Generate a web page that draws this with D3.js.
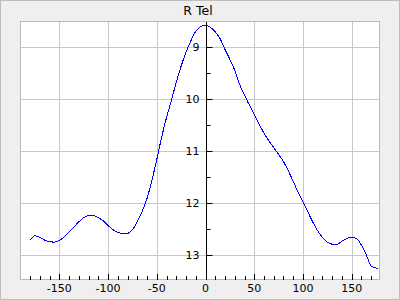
<!DOCTYPE html>
<html><head><meta charset="utf-8">
<script src="https://cdn.jsdelivr.net/npm/d3@7"></script>
<style>body{margin:0;background:#fff}svg{display:block}text{font-family:"DejaVu Sans",sans-serif}</style>
</head><body><svg id="c" width="400" height="300"></svg>
<script>
const title = "R Tel";
const phase = [-180,-175,-170,-165,-160,-155,-150,-145,-140,-135,-130,-125,-120,-115,-110,-105,-100,-95,-90,-85,-80,-75,-70,-65,-60,-55,-50,-45,-40,-35,-30,-25,-20,-15,-10,-5,0,5,10,15,20,25,30,35,40,45,50,55,60,65,70,75,80,85,90,95,100,105,110,115,120,125,130,135,140,145,150,155,160,165,170,175,177];
const mag = [12.72,12.64,12.67,12.72,12.75,12.76,12.73,12.66,12.57,12.47,12.37,12.29,12.25,12.25,12.29,12.35,12.44,12.52,12.57,12.59,12.59,12.52,12.37,12.17,11.92,11.57,11.17,10.74,10.36,10.03,9.68,9.37,9.10,8.88,8.70,8.61,8.58,8.62,8.71,8.84,9.05,9.24,9.45,9.72,9.93,10.12,10.30,10.49,10.66,10.81,10.94,11.07,11.21,11.39,11.59,11.80,11.98,12.18,12.37,12.54,12.67,12.76,12.80,12.80,12.74,12.69,12.67,12.69,12.82,13.01,13.22,13.26,13.27];
const xMajor = [-150,-100,-50,0,50,100,150];
const xMinor = d3.range(-180,180,10);
const yMajor = [9,10,11,12,13];
const yMinor = [8.5,9.5,10.5,11.5,12.5,13.5];

const svg = d3.select("#c");
const W=400,H=300, L=20,R=380,T=21,B=280;
svg.append("rect").attr("x",0.5).attr("y",0.5).attr("width",W-1).attr("height",H-1).attr("fill","#efefef").attr("stroke","#bdbdbd");
const x = d3.scaleLinear().domain([-190.3,179]).range([L,R]);
const y = d3.scaleLinear().domain([8.5,13.49]).range([T,B]);
svg.append("rect").attr("x",L+0.5).attr("y",T+0.5).attr("width",R-L-1).attr("height",B-T-1).attr("fill","#fff").attr("stroke","#b8b8b8");
const g = svg.append("g");
g.selectAll(".vg").data(xMajor.filter(d=>d!==0)).join("line").attr("x1",d=>Math.round(x(d))+0.5).attr("x2",d=>Math.round(x(d))+0.5).attr("y1",T+1).attr("y2",B-1).attr("stroke","#c8c8c8");
g.selectAll(".hg").data(yMajor).join("line").attr("y1",d=>Math.round(y(d))+0.5).attr("y2",d=>Math.round(y(d))+0.5).attr("x1",L+1).attr("x2",R-1).attr("stroke","#c8c8c8");
const x0 = Math.round(x(0))+0.5;
g.append("line").attr("x1",x0).attr("x2",x0).attr("y1",T+1).attr("y2",B).attr("stroke","#000");
g.selectAll(".yt").data(yMajor).join("line").attr("x1",x0).attr("x2",x0+6).attr("y1",d=>Math.round(y(d))+0.5).attr("y2",d=>Math.round(y(d))+0.5).attr("stroke","#000");
g.selectAll(".ym").data(yMinor.filter(d=>y(d)>T+2&&y(d)<B-2)).join("line").attr("x1",x0).attr("x2",x0+4).attr("y1",d=>Math.round(y(d))+0.5).attr("y2",d=>Math.round(y(d))+0.5).attr("stroke","#000");
g.selectAll(".yl").data(yMajor).join("text").attr("x",x0-7).attr("y",d=>y(d)+4).attr("text-anchor","end").attr("font-size",11).attr("fill","#000").text(d=>d);
g.selectAll(".xt").data(xMajor).join("line").attr("x1",d=>Math.round(x(d))+0.5).attr("x2",d=>Math.round(x(d))+0.5).attr("y1",B-6).attr("y2",B).attr("stroke","#000");
g.selectAll(".xm").data(xMinor.filter(d=>d%50!==0)).join("line").attr("x1",d=>Math.round(x(d))+0.5).attr("x2",d=>Math.round(x(d))+0.5).attr("y1",B-4).attr("y2",B).attr("stroke","#000");
g.selectAll(".xl").data(xMajor).join("text").attr("x",d=>x(d)).attr("y",B+12).attr("text-anchor","middle").attr("font-size",11).attr("fill","#000").text(d=>d);
const line = d3.line().x((d,i)=>x(phase[i])).y(d=>y(d)).curve(d3.curveMonotoneX);
svg.append("path").attr("d",line(mag)).attr("fill","none").attr("stroke","#0000ff").attr("stroke-width",1).attr("shape-rendering","crispEdges");
svg.append("text").attr("x",198).attr("y",15).attr("text-anchor","middle").attr("font-size",12.5).attr("fill","#000").text(title);
</script></body></html>
